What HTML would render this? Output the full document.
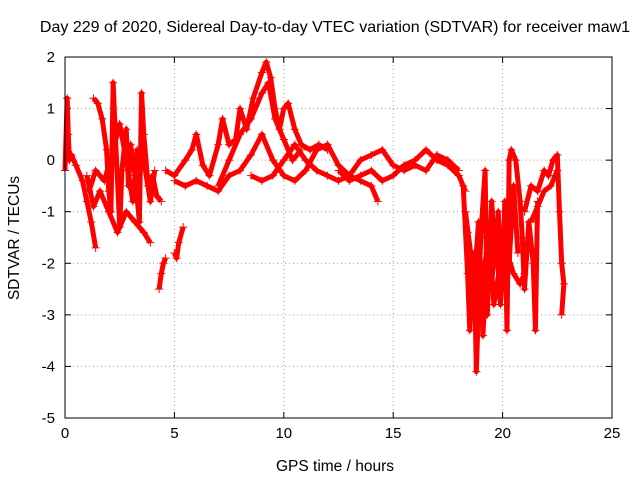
<!DOCTYPE html>
<html><head><meta charset="utf-8"><style>
body{margin:0;background:#fff;}
svg{display:block;font-family:"Liberation Sans",sans-serif;}
</style></head><body>
<svg id="chart" width="640" height="480">
<rect width="640" height="480" fill="#fff"/>
<text x="335" y="32" text-anchor="middle" font-size="16">Day 229 of 2020, Sidereal Day-to-day VTEC variation (SDTVAR) for receiver maw1</text>
<text x="0" y="0" transform="translate(19,238) rotate(-90)" text-anchor="middle" font-size="15.5">SDTVAR / TECUs</text>
<text x="335" y="471" text-anchor="middle" font-size="15.5">GPS time / hours</text>
<g id="grid"></g><g id="ticks"></g><g id="marks"></g>
<rect x="65" y="57" width="547" height="361" fill="none" stroke="#000"/>
</svg>
<script>
const xTicks=[0,5,10,15,20,25];
const yTicks=[2,1,0,-1,-2,-3,-4,-5];
const trackA=[[0,-0.2],[0.1,1.2],[0.15,0.5],[0.2,0],[0.3,0.1],[0.5,-0.1],[0.8,-0.4],[1.0,-0.8],[1.2,-1.2],[1.4,-1.7]];
const trackB=[[1.3,1.2],[1.5,1.1],[1.7,0.8],[1.9,0.2],[2.0,-0.6],[2.1,-1.0],[2.2,1.5],[2.3,0.5],[2.5,-1.3],[2.6,-0.2],[2.8,0.6],[2.9,-0.5],[3.0,0.3],[3.2,-0.3],[3.4,-1.2],[3.5,1.3],[3.6,0.5],[3.8,-0.5],[4.0,-0.3],[4.2,-0.7],[4.4,-0.8]];
const trackC=[[1.0,-0.3],[1.3,-0.9],[1.6,-0.6],[2.0,-1.0],[2.4,-1.4],[2.8,-1.0],[3.2,-1.2],[3.6,-1.4],[3.9,-1.6]];
const trackC2=[[1.1,-0.6],[1.4,-0.2],[1.8,-0.4],[2.2,0.2],[2.5,0.7],[2.8,0.0],[3.1,-0.8],[3.3,0.2],[3.6,0.0],[3.9,-0.8],[4.1,-0.2]];
const trackD=[[4.3,-2.5],[4.4,-2.2],[4.5,-2.0],[4.6,-1.9]];
const trackE=[[5.0,-1.8],[5.1,-1.9],[5.2,-1.6],[5.4,-1.3]];
const trackF=[[4.6,-0.2],[5.0,-0.3],[5.5,0.0],[5.8,0.2],[6.0,0.5],[6.3,-0.1],[6.6,-0.3],[7.0,0.3],[7.2,0.8],[7.5,0.3],[7.8,0.4],[8.0,1.0],[8.3,0.6],[8.6,1.2],[9.0,1.7],[9.2,1.9],[9.4,1.6],[9.6,1.0],[9.8,0.6],[10.0,1.0],[10.2,1.1],[10.5,0.6],[10.8,0.3],[11.2,0.2],[11.6,0.3],[12.0,0.2]];
const trackF2=[[7.0,-0.5],[7.5,0.0],[8.0,0.5],[8.5,0.8],[9.0,1.3],[9.3,1.5],[9.6,0.8],[10.0,0.4],[10.4,0.0],[10.8,0.2]];
const trackG=[[5.0,-0.4],[5.5,-0.5],[6.0,-0.4],[6.5,-0.5],[7.0,-0.6],[7.5,-0.3],[8.0,-0.2],[8.5,0.1],[9.0,0.5],[9.5,0.0],[10.0,-0.3],[10.5,-0.4],[11.0,-0.2],[11.5,0.2],[12.0,0.3],[12.5,-0.1],[13.0,-0.3],[13.5,-0.4],[14.0,-0.5],[14.3,-0.8]];
const trackH=[[8.5,-0.3],[9.0,-0.4],[9.5,-0.3],[10.0,0.0],[10.5,0.3],[11.0,0.0],[11.5,-0.2],[12.0,-0.3],[12.5,-0.4],[13.0,-0.3],[13.5,0.0],[14.0,0.1],[14.5,0.2],[15.0,-0.1],[15.5,-0.2],[16.0,-0.1],[16.5,-0.2],[17.0,0.1],[17.5,0.0],[18.0,-0.2]];
const trackI=[[12.5,-0.2],[13.0,-0.4],[13.5,-0.3],[14.0,-0.2],[14.5,-0.4],[15.0,-0.3],[15.5,-0.1],[16.0,0.0],[16.5,0.2],[17.0,0.0],[17.5,-0.1],[18.0,-0.3],[18.3,-0.6]];
const trackJ=[[18.2,-0.5],[18.4,-2.2],[18.5,-3.3],[18.7,-1.8],[18.8,-4.1],[19.0,-1.5],[19.2,-0.2],[19.3,-3.0],[19.5,-0.8],[19.7,-2.0],[19.8,-1.0],[20.0,-2.5],[20.1,-0.8],[20.2,-3.3],[20.3,0.0],[20.4,0.2],[20.6,0.0],[20.8,-0.8],[20.9,-1.5],[21.0,-2.5],[21.2,-1.2],[21.4,-2.0],[21.5,-3.3],[21.6,-0.8]];
const trackK=[[18.3,-1.0],[18.6,-2.0],[18.9,-2.8],[19.1,-2.2],[19.4,-1.5],[19.6,-2.8],[19.9,-2.0],[20.2,-1.8],[20.5,-2.2],[20.8,-2.4],[21.0,-2.2]];
const trackK2=[[18.4,-1.4],[18.6,-3.0],[18.9,-1.2],[19.1,-3.4],[19.3,-1.8],[19.5,-2.4],[19.7,-1.4],[19.9,-2.8],[20.1,-1.5],[20.3,-2.0],[20.5,-0.5],[20.7,-1.8]];
const trackL=[[21.0,-1.0],[21.3,-0.5],[21.6,-0.6],[21.9,-0.2],[22.1,-0.3],[22.3,0.0],[22.5,0.1],[22.6,-1.0],[22.7,-2.0],[22.8,-2.4],[22.7,-3.0]];
const trackL2=[[21.3,-1.2],[21.6,-0.9],[21.9,-0.6],[22.2,-0.5],[22.5,-0.2]];
const tracks=[trackA,trackB,trackC,trackC2,trackD,trackE,trackF,trackF2,trackG,trackH,trackI,trackJ,trackK,trackK2,trackL,trackL2];
const X0=65,X1=612,Y0=57,Y1=418;
const sx=t=>X0+(t-0)/(25-0)*(X1-X0);
const sy=v=>Y0+(2-v)/(2-(-5))*(Y1-Y0);
const NS="http://www.w3.org/2000/svg";
const grid=document.getElementById('grid'),ticks=document.getElementById('ticks'),marks=document.getElementById('marks');
function mk(tag,attrs,parent){const e=document.createElementNS(NS,tag);for(const k in attrs)e.setAttribute(k,attrs[k]);parent.appendChild(e);return e;}
xTicks.forEach(t=>{
  const x=sx(t);
  if(t>0&&t<25){const g=mk('line',{x1:x,x2:x,y1:Y0,y2:Y1,stroke:'#a0a0a0','stroke-dasharray':'1,3'},grid);
  
  }
  mk('line',{x1:x,x2:x,y1:Y1,y2:Y1-6,stroke:'#000'},ticks);
  mk('line',{x1:x,x2:x,y1:Y0,y2:Y0+6,stroke:'#000'},ticks);
  const l=mk('text',{x:x,y:Y1+20,'text-anchor':'middle','font-size':'15'},ticks);l.textContent=t;
  
  
});
yTicks.forEach(v=>{
  const y=sy(v);
  if(v<2&&v>-5){const g=mk('line',{x1:X0,x2:X1,y1:y,y2:y,stroke:'#a0a0a0','stroke-dasharray':'1,3'},grid);
  
  }
  mk('line',{x1:X0,x2:X0+6,y1:y,y2:y,stroke:'#000'},ticks);
  mk('line',{x1:X1,x2:X1-6,y1:y,y2:y,stroke:'#000'},ticks);
  const l=mk('text',{x:X0-10,y:y+5,'text-anchor':'end','font-size':'15'},ticks);l.textContent=v;
  
  
});
tracks.forEach((tr,i)=>{
  const p=mk('polyline',{points:tr.map(d=>sx(d[0])+','+sy(d[1])).join(' '),fill:'none',stroke:'#f00','stroke-width':'5','stroke-linejoin':'round'},marks);
  
  
  tr.forEach(d=>{
    const x=sx(d[0]),y=sy(d[1]);
    const m=mk('path',{d:`M${x-4},${y}h8M${x},${y-4}v8`,stroke:'#f00','stroke-width':'1'},marks);
    
    
  });
});
</script>
</body></html>
